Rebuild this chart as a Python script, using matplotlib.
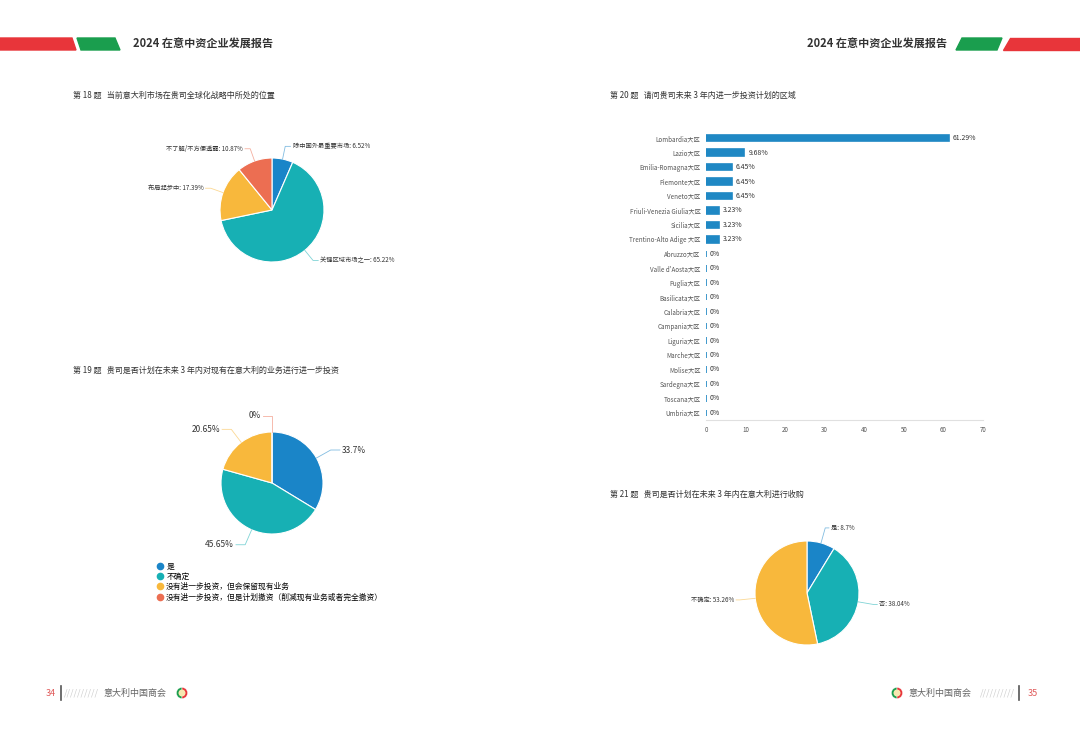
import numpy as np
import matplotlib
matplotlib.use("Agg")
import matplotlib.pyplot as plt
from matplotlib.patches import Polygon
from matplotlib.lines import Line2D

plt.rcParams['font.family'] = ['Noto Sans CJK SC', 'DejaVu Sans']

# ---- data ----
q18_labels = ['除中国外最重要市场', '关键区域市场之一', '布局起步中', '不了解/不方便透露']
q18_values = [6.52, 65.22, 17.39, 10.87]

q19_labels = ['是', '不确定', '没有进一步投资，但会保留现有业务',
              '没有进一步投资，但是计划撤资（削减现有业务或者完全撤资）']
q19_values = [33.7, 45.65, 20.65, 0]

q20_regions = ['Lombardia大区', 'Lazio大区', 'Emilia-Romagna大区', 'Piemonte大区',
               'Veneto大区', 'Friuli-Venezia Giulia大区', 'Sicilia大区',
               'Trentino-Alto Adige 大区', 'Abruzzo大区', "Valle d'Aosta大区",
               'Puglia大区', 'Basilicata大区', 'Calabria大区', 'Campania大区',
               'Liguria大区', 'Marche大区', 'Molise大区', 'Sardegna大区',
               'Toscana大区', 'Umbria大区']
q20_values = [61.29, 9.68, 6.45, 6.45, 6.45, 3.23, 3.23, 3.23,
              0, 0, 0, 0, 0, 0, 0, 0, 0, 0, 0, 0]
q20_ticks = [0, 10, 20, 30, 40, 50, 60, 70]

q21_labels = ['是', '否', '不确定']
q21_values = [8.7, 38.04, 53.26]

colors = ['#1a85c8', '#17b0b4', '#f8b83c', '#ec6e52']
red, green = '#e8353a', '#1a9e4e'
txt = '#333333'

W, H = 1080, 737
fig = plt.figure(figsize=(W / 100, H / 100), dpi=100)
fig.patch.set_facecolor('white')

# page overlay in pixel coords
bg = fig.add_axes([0, 0, 1, 1])
bg.set_xlim(0, W)
bg.set_ylim(H, 0)
bg.axis('off')

# header stripes
bg.add_patch(Polygon([(0, 38), (72, 38), (76, 50), (0, 50)], color=red))
bg.add_patch(Polygon([(77, 38), (115, 38), (120, 50), (81, 50)], color=green))
bg.add_patch(Polygon([(962, 38), (1002, 38), (997, 50), (956, 50)], color=green))
bg.add_patch(Polygon([(1010, 38), (1080, 38), (1080, 50), (1003, 50)], color=red))
bg.text(133, 44, '2024 在意中资企业发展报告', fontsize=8, fontweight='bold',
        color=txt, va='center', ha='left')
bg.text(947, 44, '2024 在意中资企业发展报告', fontsize=8, fontweight='bold',
        color=txt, va='center', ha='right')

# section titles
bg.text(73, 95, '第 18 题   当前意大利市场在贵司全球化战略中所处的位置',
        fontsize=5.8, color=txt, va='center')
bg.text(73, 370, '第 19 题   贵司是否计划在未来 3 年内对现有在意大利的业务进行进一步投资',
        fontsize=5.8, color=txt, va='center')
bg.text(610, 95, '第 20 题   请问贵司未来 3 年内进一步投资计划的区域',
        fontsize=5.8, color=txt, va='center')
bg.text(610, 494, '第 21 题   贵司是否计划在未来 3 年内在意大利进行收购',
        fontsize=5.8, color=txt, va='center')

# footers
bg.text(46, 693, '34', fontsize=6.5, color='#e05a5a', va='center')
bg.plot([61, 61], [686, 700], color='#555555', lw=1.2)
bg.text(64, 693, '//////////', fontsize=6.5, color='#cccccc', va='center')
bg.text(103, 693, '意大利中国商会', fontsize=6.5, color='#666666', va='center')
bg.text(1028, 693, '35', fontsize=6.5, color='#e05a5a', va='center')
bg.plot([1019, 1019], [686, 700], color='#555555', lw=1.2)
bg.text(980, 693, '//////////', fontsize=6.5, color='#cccccc', va='center')
bg.text(908, 693, '意大利中国商会', fontsize=6.5, color='#666666', va='center')

for cx in (182, 897):
    lg = fig.add_axes([(cx - 7) / W, 1 - (693 + 7) / H, 14 / W, 14 / H])
    lg.pie([1, 1], colors=[green, red], startangle=90,
           wedgeprops=dict(width=0.5, edgecolor='white', linewidth=0.3))
    lg.add_patch(plt.Circle((0, 0), 0.5, color='#f6e7b0'))
    lg.set_aspect('equal')
    lg.axis('off')


def pie_axes(cx, cy, half=110):
    ax = fig.add_axes([(cx - half) / W, 1 - (cy + half) / H, 2 * half / W, 2 * half / H])
    ax.axis('off')
    return ax


def fix_scale(ax, r, half=110):
    # pie() resets the limits, so scale afterwards
    s = half / r
    ax.set_xlim(-s, s)
    ax.set_ylim(-s, s)
    ax.set_aspect('equal')


def leaders(ax, wedges, labels, cols, r1, l2, fs):
    for w, t, c in zip(wedges, labels, cols):
        a = np.deg2rad((w.theta1 + w.theta2) / 2)
        x0, y0 = np.cos(a), np.sin(a)
        x1, y1 = r1 * x0, r1 * y0
        right = x0 > 1e-6
        x2 = x1 + (l2 if right else -l2)
        ax.plot([x0, x1, x2], [y0, y1, y1], color=c, lw=0.6, alpha=0.55,
                clip_on=False)
        ax.text(x2 + (0.04 if right else -0.04), y1, t, fontsize=fs, color=txt,
                ha='left' if right else 'right', va='center', clip_on=False)


# Q18 pie
ax1 = pie_axes(272, 210)
w1, _ = ax1.pie(q18_values, colors=colors, startangle=90, counterclock=False,
                wedgeprops=dict(edgecolor='white', linewidth=0.8))
fix_scale(ax1, 52)
leaders(ax1, w1, [f'{l}: {v}%' for l, v in zip(q18_labels, q18_values)],
        colors, 1.25, 0.1, 4.5)

# Q19 pie
ax2 = pie_axes(272, 483)
w2, _ = ax2.pie(q19_values, colors=colors, startangle=90, counterclock=False,
                wedgeprops=dict(edgecolor='white', linewidth=0.8))
fix_scale(ax2, 51)
leaders(ax2, w2, [f'{v:g}%' for v in q19_values], colors, 1.32, 0.18, 6)
handles = [Line2D([], [], marker='o', ls='', color=c, markersize=4.5) for c in colors]
fig.legend(handles, q19_labels, loc='upper left',
           bbox_to_anchor=(153 / W, 1 - 560 / H), frameon=False, fontsize=5.6,
           handletextpad=0.3, labelspacing=0.25, borderaxespad=0, handlelength=1)

# Q21 pie
ax3 = pie_axes(807, 593)
w3, _ = ax3.pie(q21_values, colors=colors[:3], startangle=90, counterclock=False,
                wedgeprops=dict(edgecolor='white', linewidth=0.8))
fix_scale(ax3, 52)
leaders(ax3, w3, [f'{l}: {v:g}%' for l, v in zip(q21_labels, q21_values)],
        colors[:3], 1.3, 0.07, 4.5)

# Q20 bars
axb = fig.add_axes([706 / W, 1 - 420 / H, 277 / W, 289 / H])
y = np.arange(len(q20_regions))
axb.barh(y, q20_values, height=0.45, color='#1f88c4', edgecolor='#1f88c4',
         linewidth=1.2)
for yi, v in zip(y, q20_values):
    axb.text(v + 1.0, yi, f'{v:g}%', fontsize=5, color=txt, va='center')
axb.set_yticks(y)
axb.set_yticklabels(q20_regions, fontsize=4.5, color='#555555')
axb.set_ylim(len(q20_regions) - 0.5, -0.5)
axb.set_xlim(0, 70)
axb.set_xticks(q20_ticks)
axb.set_xticklabels([str(t) for t in q20_ticks], fontsize=4.5, color='#555555')
axb.tick_params(length=0, pad=4)
for s in ('top', 'right', 'left'):
    axb.spines[s].set_visible(False)
axb.spines['bottom'].set_color('#e0e0e0')
axb.spines['bottom'].set_linewidth(0.8)

fig.savefig('out.png', dpi=100, facecolor='white')
